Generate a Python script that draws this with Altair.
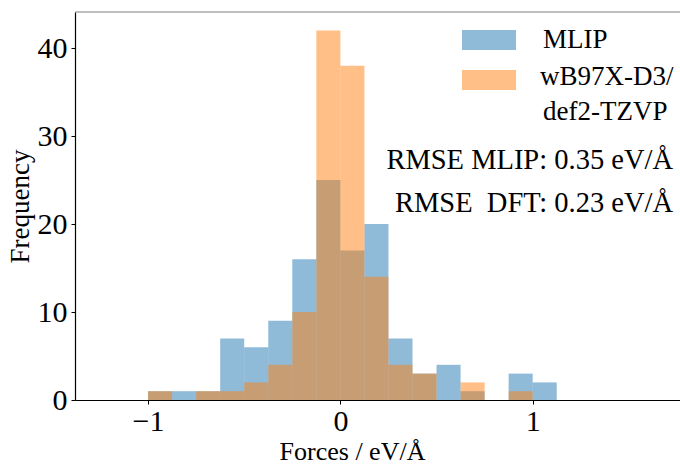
import altair as alt
import pandas as pd

# ---- data ----
bin_width = 0.125
bin_starts = [-1.0, -0.875, -0.75, -0.625, -0.5, -0.375, -0.25, -0.125, 0.0,
              0.125, 0.25, 0.375, 0.5, 0.625, 0.75, 0.875, 1.0]
mlip_counts = [1, 1, 1, 7, 6, 9, 16, 25, 17, 20, 7, 3, 4, 1, 0, 3, 2]
dft_counts = [1, 0, 1, 1, 2, 4, 10, 42, 38, 14, 4, 3, 0, 2, 0, 1, 0]
x_ticks = [-1, 0, 1]
y_ticks = [0, 10, 20, 30, 40]
legend_labels = ["MLIP", "wB97X-D3/", "def2-TZVP"]
rmse_lines = ["RMSE MLIP: 0.35 eV/Å", "RMSE\u00a0\u00a0DFT: 0.23 eV/Å"]

FONT = "Liberation Serif"
W, H = 605, 388
BLUE, ORANGE = "#1f77b4", "#ff7f0e"


def table(counts):
    rows = [{"start": s, "end": s + bin_width, "count": c}
            for s, c in zip(bin_starts, counts) if c > 0]
    return pd.DataFrame(rows)


xscale = alt.Scale(domain=[-1.38, 1.766], nice=False, zero=False)
yscale = alt.Scale(domain=[0, 44.1], nice=False)

xaxis = alt.Axis(values=x_ticks, format="d", title="Forces / eV/Å", grid=False,
                 labelFont=FONT, labelFontSize=30, labelColor="black",
                 titleFont=FONT, titleFontSize=26, titleFontWeight="normal",
                 titleColor="black", titleX=277, titleY=59,
                 titleAlign="center", titleBaseline="alphabetic",
                 tickColor="black",
                 tickSize=4, domainColor="black", domainWidth=1.2, labelPadding=2)
yaxis = alt.Axis(values=y_ticks, title="Frequency", grid=False,
                 labelFont=FONT, labelFontSize=30, labelColor="black",
                 titleFont=FONT, titleFontSize=27, titleFontWeight="normal",
                 titleColor="black", titlePadding=3, tickColor="black",
                 tickSize=4, domainColor="black", domainWidth=1.2, labelPadding=4)

blue = alt.Chart(table(mlip_counts)).mark_rect(color=BLUE, opacity=0.5).encode(
    x=alt.X("start:Q", scale=xscale, axis=xaxis),
    x2="end:Q",
    y=alt.Y("count:Q", scale=yscale, axis=yaxis),
    y2=alt.datum(0),
)
orange = alt.Chart(table(dft_counts)).mark_rect(color=ORANGE, opacity=0.5).encode(
    x=alt.X("start:Q", scale=xscale),
    x2="end:Q",
    y=alt.Y("count:Q", scale=yscale),
    y2=alt.datum(0),
)

top_spine = alt.Chart().mark_rule(color="#7f7f7f", strokeWidth=1.2).encode(
    x=alt.value(0), x2=alt.value(W), y=alt.value(0))

leg_blue = alt.Chart().mark_rect(color="#8fbbd9").encode(
    x=alt.value(387), x2=alt.value(441), y=alt.value(18), y2=alt.value(38))
leg_orange = alt.Chart().mark_rect(color="#ffbf86").encode(
    x=alt.value(387), x2=alt.value(441), y=alt.value(58), y2=alt.value(78))


def txt(s, x, y, align="left", size=27):
    return alt.Chart().mark_text(text=s, font=FONT, fontSize=size, align=align,
                                 baseline="middle", color="black").encode(
        x=alt.value(x), y=alt.value(y))


texts = [
    txt(legend_labels[0], 468, 28),
    txt(legend_labels[1], 465, 65),
    txt(legend_labels[2], 468, 100),
    txt(rmse_lines[0], 598, 148, align="right", size=28.5),
    txt(rmse_lines[1], 598, 191, align="right", size=28.5),
]

chart = alt.layer(blue, orange, top_spine, leg_blue, leg_orange, *texts).properties(
    width=W, height=H,
    autosize=alt.AutoSizeParams(type="none"),
    padding={"left": 75, "top": 12, "right": 0, "bottom": 67},
    background="white",
).configure_view(stroke=None)

chart.save("out.html", embed_options={"renderer": "svg", "actions": False})
